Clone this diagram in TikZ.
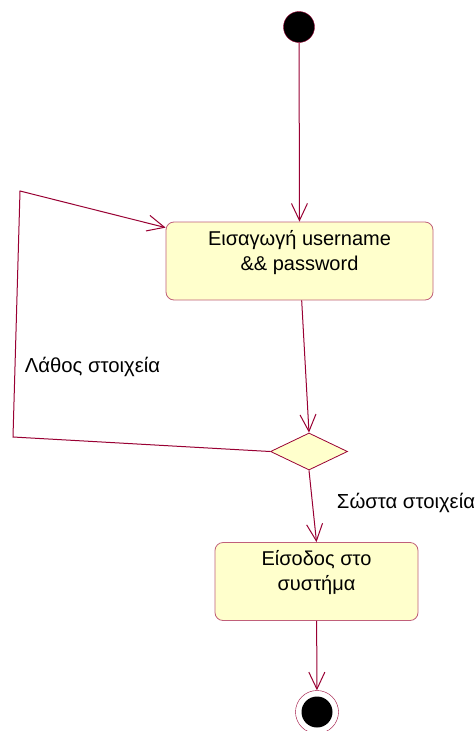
\documentclass[tikz,border=0pt]{standalone}
\usepackage{fontspec}
\setmainfont{Liberation Sans}
\usetikzlibrary{arrows.meta,shapes.geometric}
\definecolor{wire}{HTML}{990033}
\definecolor{actline}{HTML}{C0607A}
\definecolor{actbg}{HTML}{FFFFCC}
\newcommand{\acttxt}[2]{\parbox[c][62pt][t]{#1}{\centering #2}}

\begin{document}
\begin{tikzpicture}[x=1pt,y=-1pt,
  act/.style={draw=actline,fill=actbg,rounded corners=8pt,inner sep=8pt,
              line width=0.8pt,font=\fontsize{20}{25}\selectfont},
  cond/.style={diamond,aspect=2.08,draw=wire,fill=actbg,line width=0.8pt,
               minimum width=77pt,minimum height=37pt,inner sep=0pt},
  begdot/.style={circle,draw=wire,fill=black,minimum size=31pt,inner sep=0pt},
  enddot/.style={circle,draw=wire,fill=white,minimum size=43pt,inner sep=0pt,
                 path picture={\fill[black] (path picture bounding box.center) circle (15.5pt);}},
  flow/.style={-{Straight Barb[length=17pt,width=16pt]},draw=wire,line width=1pt},
  lbl/.style={font=\fontsize{20.3}{25}\selectfont}
]
\fill[white] (0,0) rectangle (476,731);
\useasboundingbox (0,0) rectangle (476,731);
\node[begdot] (init) at (299,27) {};
\node[act] (login) at (299.5,261) {\acttxt{251pt}{Εισαγωγή username\\ \&\& password}};
\node[cond] (check) at (309,451.5) {};
\node[act] (enter) at (316.5,581.5) {\acttxt{187pt}{Είσοδος στο\\ συστήμα}};
\node[enddot] (final) at (317,712) {};
\coordinate (back1) at (13,437);
\coordinate (back2) at (20,191);
\draw[flow] (init) -- (login.north);
\draw[flow] (login) -- (check.north);
\draw[flow] (check.west) -- (back1) -- (back2) -- ([yshift=-6pt]login.north west);
\draw[flow] (check.south) -- (enter.north);
\draw[flow] (enter) -- (final);
\node[lbl] (wrong) at (92.5,367) {Λάθος στοιχεία};
\node[lbl] (right) at (406,503) {Σώστα στοιχεία};
\end{tikzpicture}
\end{document}
